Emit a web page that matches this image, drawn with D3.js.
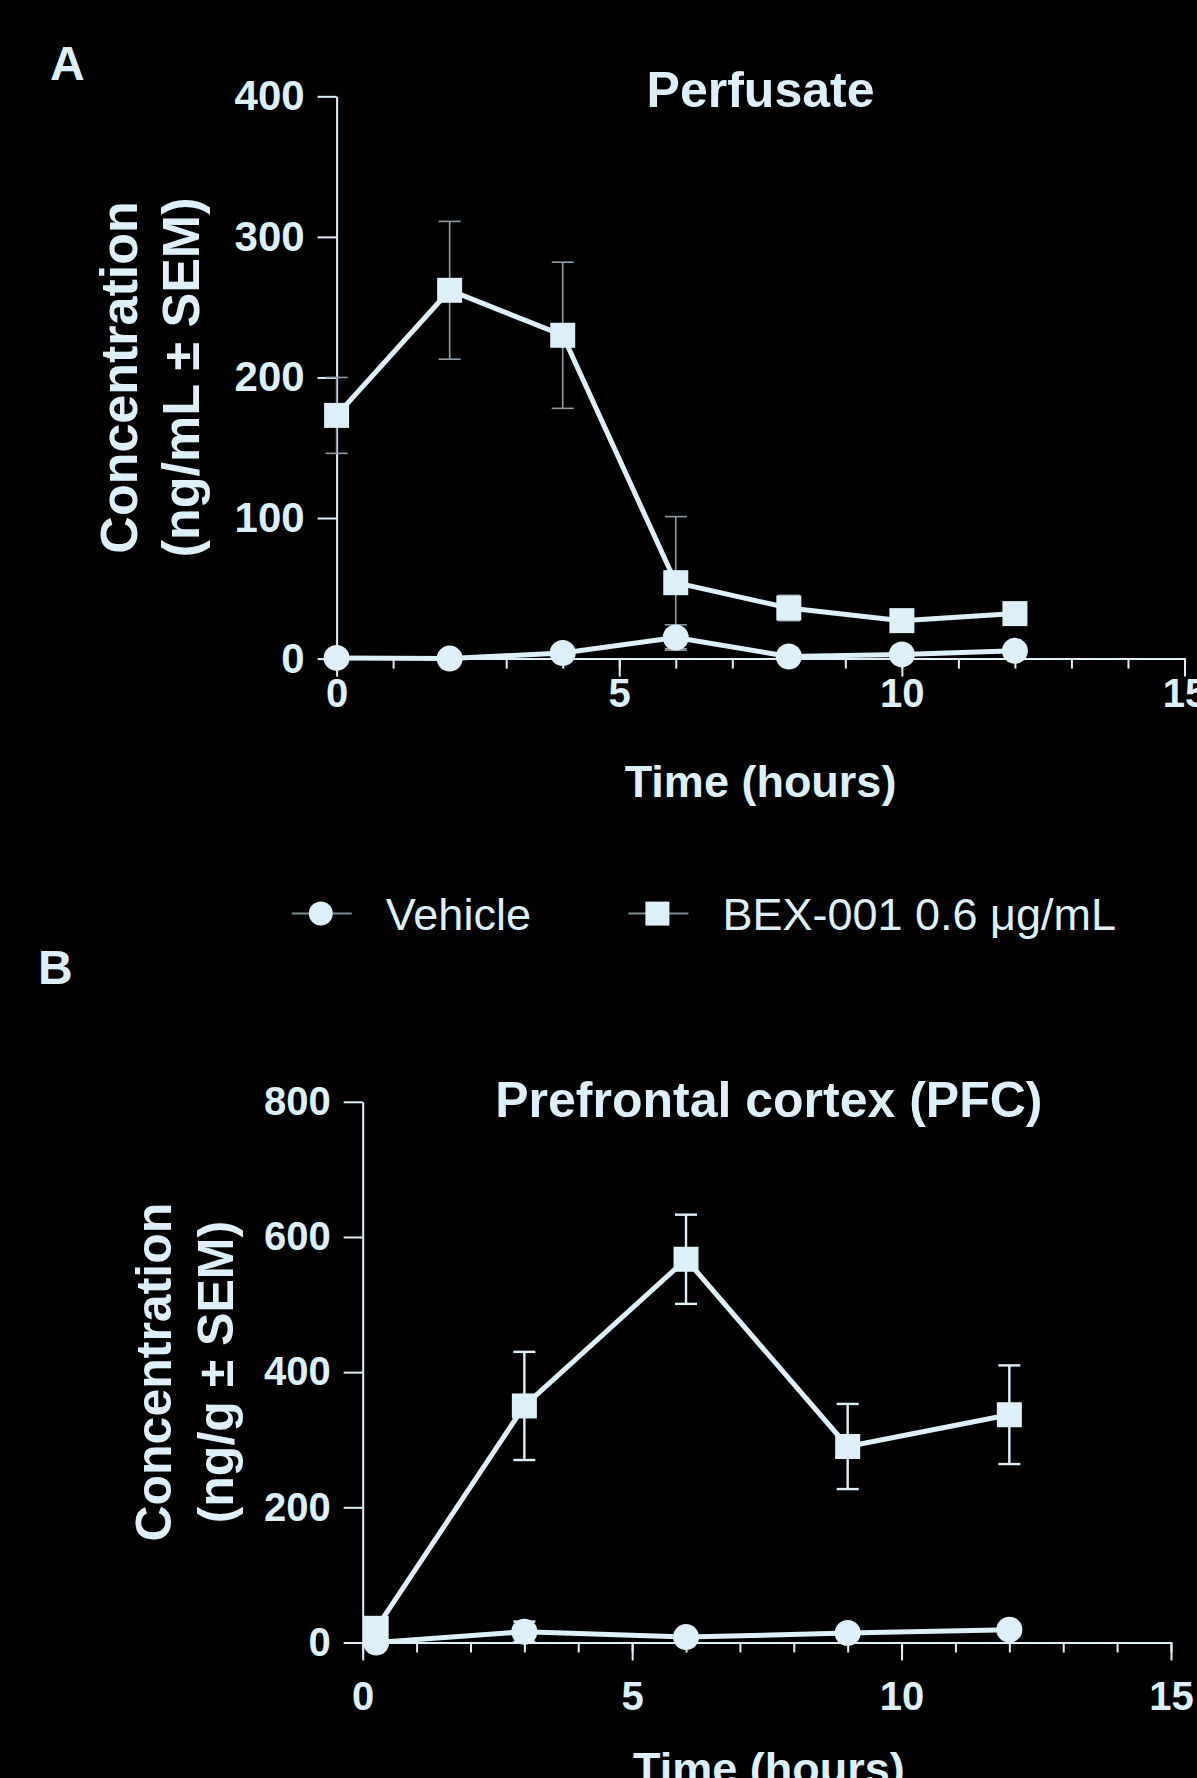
<!DOCTYPE html>
<html>
<head>
<meta charset="utf-8">
<script src="https://cdn.jsdelivr.net/npm/d3@7"></script>
<style>
  html, body { margin: 0; padding: 0; background: #000; }
  svg { display: block; }
  text { font-family: "Liberation Sans", Arial, sans-serif; fill: #ddf0fa; }
</style>
</head>
<body>
<script>
// panel A - perfusate
const timeA = [0, 2, 4, 6, 8, 10, 12]
const vehicleA = [0.5, 0, 4, 15, 1.5, 3, 5.5]
const vehicleSemA = [0.5, 0.5, 1.5, 9, 1, 1.5, 2]
const bexA = [173, 262, 230, 54, 36, 27, 32]
const bexSemA = [27, 49, 52, 47, 9, 4, 5]
const yTicksA = [0, 100, 200, 300, 400]

// panel B - prefrontal cortex
const timeB = [0.25, 3, 6, 9, 12]
const vehicleB = [0, 16, 8, 14, 19]
const vehicleSemB = [1, 15, 3, 4, 4]
const bexB = [21, 350, 567, 290, 337]
const bexSemB = [8, 80, 66, 63, 73]
const yTicksB = [0, 200, 400, 600, 800]

const xTicks = [0, 5, 10, 15]
const xMinor = d3.range(0, 16)

const fg = '#ddf0fa'

const width = 1197
const height = 1778

const svg = d3.select('body').append('svg').attr('width', width).attr('height', height)

function panel(o) {
	const x = d3.scaleLinear().domain([0, 15]).range(o.xr)
	const y = d3.scaleLinear().domain(o.ydom).range(o.yr)
	const g = svg.append('g')

	// minor x ticks
	g.append('g').attr('transform', 'translate(0,' + o.yr[0] + ')')
		.call(d3.axisBottom(x).tickValues(xMinor).tickSize(10).tickSizeOuter(0).tickFormat(''))
	// major x ticks
	g.append('g').attr('class', 'xaxis').attr('transform', 'translate(0,' + o.yr[0] + ')')
		.call(d3.axisBottom(x).tickValues(xTicks).tickSize(18).tickSizeOuter(0).tickPadding(o.xPad))
	g.append('g').attr('class', 'yaxis').attr('transform', 'translate(' + o.xr[0] + ',0)')
		.call(d3.axisLeft(y).tickValues(o.yTicks).tickSize(19).tickSizeOuter(0).tickPadding(13))

	g.selectAll('.domain, .tick line').attr('stroke', fg).attr('stroke-width', 2)
	g.selectAll('.tick text').attr('fill', fg).style('font-weight', 'bold')
		.style('font-family', '"Liberation Sans", Arial, sans-serif')
	g.selectAll('.xaxis .tick text').style('font-size', o.xFont + 'px')
	g.selectAll('.yaxis .tick text').style('font-size', o.yFont + 'px')

	// titles
	g.append('text').attr('x', (o.xr[0] + o.xr[1]) / 2 + o.titleDx).attr('y', o.titleY)
		.attr('text-anchor', 'middle').style('font-size', '50px').style('font-weight', 'bold').text(o.title)
	g.append('text').attr('x', (o.xr[0] + o.xr[1]) / 2 + o.titleDx).attr('y', o.xLabelY)
		.attr('text-anchor', 'middle').style('font-size', '45px').style('font-weight', 'bold').text('Time (hours)')
	const ym = (o.yr[0] + o.yr[1]) / 2
	o.yLabel.forEach((t, i) => {
		g.append('text').attr('transform', 'translate(' + o.yLabelX[i] + ',' + ym + ') rotate(-90)')
			.attr('text-anchor', 'middle').attr('dy', '0.35em')
			.style('font-size', o.yLabelFont + 'px').style('font-weight', 'bold').text(t)
	})
	g.append('text').attr('x', o.letter[0]).attr('y', o.letter[1])
		.style('font-size', '48px').style('font-weight', 'bold').text(o.letterText)

	const line = d3.line().x(d => x(d[0])).y(d => y(d[1]))

	o.series.forEach(s => {
		const pts = s.t.map((t, i) => [t, s.v[i], s.e[i]])
		// error bars
		const eb = g.append('g')
		pts.forEach(p => {
			eb.append('line').attr('x1', x(p[0])).attr('x2', x(p[0]))
				.attr('y1', y(p[1] - p[2])).attr('y2', y(p[1] + p[2]))
			eb.append('line').attr('x1', x(p[0]) - 11).attr('x2', x(p[0]) + 11)
				.attr('y1', y(p[1] + p[2])).attr('y2', y(p[1] + p[2]))
			eb.append('line').attr('x1', x(p[0]) - 11).attr('x2', x(p[0]) + 11)
				.attr('y1', y(p[1] - p[2])).attr('y2', y(p[1] - p[2]))
		})
		eb.selectAll('line').attr('stroke', o.errColor).attr('stroke-width', o.errWidth)

		g.append('path').datum(pts).attr('d', line)
			.attr('fill', 'none').attr('stroke', fg).attr('stroke-width', 5)

		if (s.shape === 'square') {
			g.selectAll(null).data(pts).enter().append('rect')
				.attr('x', d => x(d[0]) - 12.5).attr('y', d => y(d[1]) - 12.5)
				.attr('width', 25).attr('height', 25).attr('fill', fg)
		} else {
			g.selectAll(null).data(pts).enter().append('circle')
				.attr('cx', d => x(d[0])).attr('cy', d => y(d[1])).attr('r', 13).attr('fill', fg)
		}
	})
}

panel({
	xr: [336.6, 1184.5], ydom: [0, 400], yr: [658.6, 96.3], yTicks: yTicksA,
	xPad: 2, xFont: 40, yFont: 42,
	title: 'Perfusate', titleY: 107, titleDx: 0, xLabelY: 797,
	yLabel: ['Concentration', '(ng/mL ± SEM)'], yLabelX: [119, 181], yLabelFont: 52,
	letter: [50, 80], letterText: 'A',
	errColor: '#8e9ba4', errWidth: 1.6,
	series: [
		{ t: timeA, v: bexA, e: bexSemA, shape: 'square' },
		{ t: timeA, v: vehicleA, e: vehicleSemA, shape: 'circle' }
	]
})

panel({
	xr: [362.7, 1171], ydom: [0, 800], yr: [1642.5, 1101.8], yTicks: yTicksB,
	xPad: 21, xFont: 40, yFont: 40,
	title: 'Prefrontal cortex (PFC)', titleY: 1117, titleDx: 2, xLabelY: 1784,
	yLabel: ['Concentration', '(ng/g ± SEM)'], yLabelX: [153, 215], yLabelFont: 50,
	letter: [38, 984], letterText: 'B',
	errColor: fg, errWidth: 2.4,
	series: [
		{ t: timeB, v: bexB, e: bexSemB, shape: 'square' },
		{ t: timeB, v: vehicleB, e: vehicleSemB, shape: 'circle' }
	]
})

// legend
const legendItems = ['Vehicle', 'BEX-001 0.6 μg/mL']
const legendX = [320.8, 657.4]
const leg = svg.append('g').attr('transform', 'translate(0,913.6)')
legendItems.forEach((name, i) => {
	const cx = legendX[i]
	leg.append('line').attr('x1', cx - 29).attr('x2', cx + 31).attr('y1', 0).attr('y2', 0)
		.attr('stroke', '#7f8c92').attr('stroke-width', 2)
	if (i === 0) {
		leg.append('circle').attr('cx', cx).attr('cy', 0).attr('r', 12).attr('fill', fg)
	} else {
		leg.append('rect').attr('x', cx - 12).attr('y', -12).attr('width', 24).attr('height', 24).attr('fill', fg)
	}
	leg.append('text').attr('x', cx + 65).attr('y', 16).style('font-size', '45px').text(name)
})
</script>
</body>
</html>
